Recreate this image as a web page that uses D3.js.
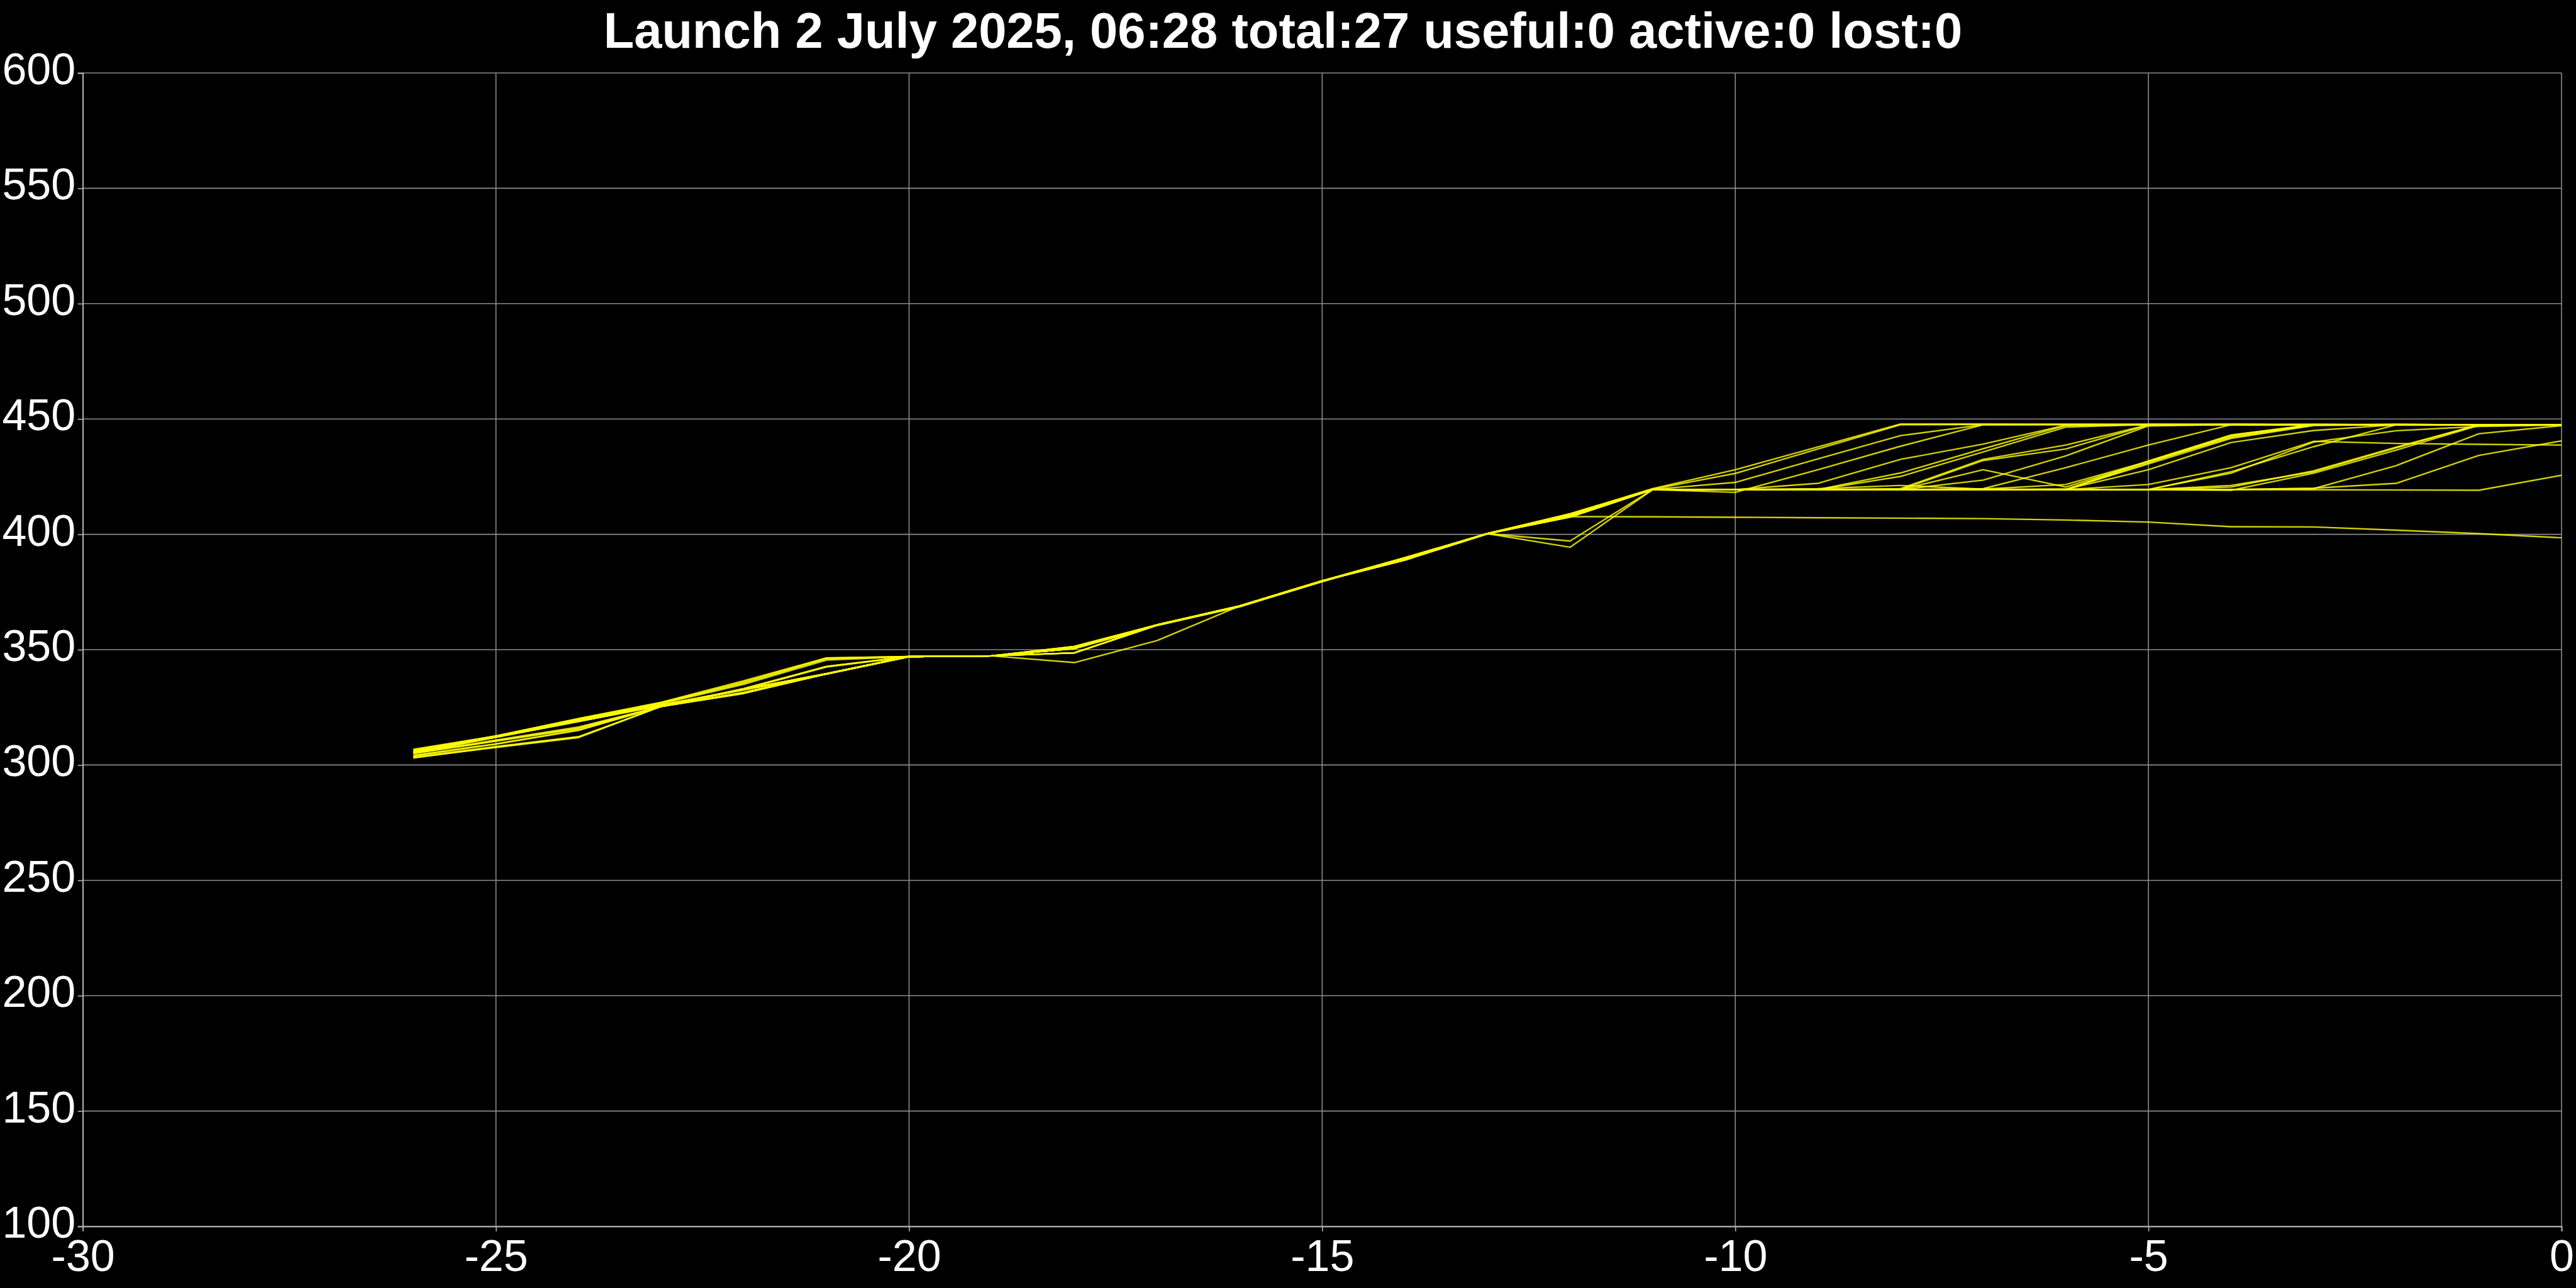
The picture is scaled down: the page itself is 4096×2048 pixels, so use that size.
<!DOCTYPE html>
<html>
<head>
<meta charset="utf-8">
<script src="https://cdn.jsdelivr.net/npm/d3@7"></script>
<style>
  html, body { margin: 0; padding: 0; background: #000; }
  svg { display: block; }
</style>
</head>
<body>
<script>
// ---- DATA ----
const titleText = "Launch 2 July 2025, 06:28 total:27 useful:0 active:0 lost:0";
const days = [-26,-25,-24,-23,-22,-21,-20,-19,-18,-17,-16,-15,-14,-13,-12,-11,-10,-9,-8,-7,-6,-5,-4,-3,-2,-1,0];
const xTicks = [-30,-25,-20,-15,-10,-5,0];
const yTicks = [100,150,200,250,300,350,400,450,500,550,600];

const s01 = [306.5,312.6,320.0,327.0,336.0,346.4,347.0,347.3,351.4,360.7,368.9,379.8,389.2,400.3,408.9,419.8,428.0,437.9,447.8,447.8,447.7,447.6,447.6,447.5,447.5,447.5,447.5];
const s02 = [306.2,312.4,319.6,326.8,335.5,346.0,347.0,347.3,351.2,360.7,368.9,379.8,389.0,400.3,408.7,419.6,426.4,437.0,447.5,447.6,447.6,447.6,447.5,447.5,447.5,447.4,447.4];
const s03 = [305.3,312.2,319.0,325.9,332.7,339.5,347.0,347.3,350.5,360.7,368.9,379.8,388.9,400.3,408.2,419.5,422.5,432.7,442.8,447.5,447.6,447.6,447.6,447.5,447.5,447.5,447.5];
const s04 = [303.2,307.6,311.9,325.4,331.0,339.5,347.0,347.3,348.6,360.7,368.9,379.8,389.8,400.3,407.5,419.4,418.2,428.0,438.2,447.5,447.6,447.6,447.5,447.5,447.5,447.5,447.5];
const s05 = [305.5,312.3,319.1,325.9,332.8,339.6,347.0,347.3,350.5,360.7,368.9,379.8,388.9,400.3,408.3,419.4,419.4,422.1,432.5,439.1,447.3,447.6,447.6,447.5,447.5,447.5,447.5];
const s06 = [305.0,310.5,316.0,325.4,333.0,342.7,347.0,347.3,350.5,360.7,368.9,379.8,388.9,400.3,408.0,419.4,419.4,419.4,426.6,437.1,447.2,447.6,447.6,447.5,447.5,447.5,447.5];
const s07 = [305.1,312.0,318.9,325.8,332.6,339.4,347.0,347.3,350.5,360.7,368.9,379.8,388.9,400.3,408.1,419.4,419.4,419.4,425.1,435.7,446.5,447.6,447.6,447.5,447.5,447.5,447.5];
const s08 = [305.4,312.2,319.0,325.9,332.7,339.5,347.0,347.3,344.4,353.9,368.9,379.8,389.8,400.3,408.0,419.4,419.4,419.8,421.2,419.6,419.5,419.4,421.2,427.1,437.5,447.5,447.5];
const s09 = [305.2,310.8,316.5,325.4,333.2,342.7,347.0,347.3,350.5,360.7,368.9,379.8,388.9,400.3,408.0,419.4,419.4,419.4,419.4,428.0,420.5,431.6,443.0,447.5,447.6,447.5,447.5];
const s10 = [305.6,312.4,319.2,326.0,332.8,339.6,347.0,347.3,350.5,360.7,368.9,379.8,388.9,400.3,408.2,419.4,419.4,419.4,419.8,432.5,438.7,447.5,447.6,447.6,447.5,447.5,447.5];
const s11 = [306.0,312.5,319.8,326.5,335.0,345.5,347.0,347.3,351.4,360.7,368.9,379.8,389.0,400.3,408.6,419.4,419.4,419.4,419.4,432.0,437.0,447.4,447.6,447.6,447.5,447.5,447.5];
const s12 = [305.3,312.1,318.9,325.8,332.6,339.5,347.0,347.3,350.5,360.7,368.9,379.8,388.9,400.3,408.2,419.4,419.4,419.4,419.4,423.5,434.0,447.0,447.6,447.6,447.5,447.5,447.5];
const s13 = [304.0,309.0,315.0,325.4,331.5,339.5,347.0,347.3,348.6,360.5,368.6,379.5,389.8,400.3,407.5,419.4,419.4,419.4,419.4,419.8,428.9,438.7,447.5,447.6,447.5,447.5,447.5];
const s14 = [305.4,312.3,319.1,325.9,332.7,339.5,347.0,347.3,350.5,360.7,368.9,379.8,388.9,400.3,408.3,419.4,419.4,419.4,419.4,419.6,421.6,431.6,442.0,447.4,447.6,447.5,447.5];
const s15 = [305.2,312.1,319.0,325.9,332.7,339.5,347.0,347.3,350.5,360.7,368.9,379.8,388.9,400.3,408.2,419.4,419.4,419.4,419.4,419.4,419.5,431.0,442.5,447.5,447.6,447.5,447.5];
const s16 = [303.0,307.8,312.1,325.4,331.2,339.5,347.0,347.3,348.6,360.7,368.9,379.8,389.8,400.3,407.6,419.4,419.4,419.4,419.4,419.4,419.5,430.5,441.6,447.2,447.6,447.5,447.5];
const s17 = [305.5,312.3,319.1,325.9,332.8,339.6,347.0,347.3,350.5,360.7,368.9,379.8,388.9,400.3,408.1,419.4,419.4,419.4,419.4,419.4,419.4,431.8,443.0,447.6,447.6,447.5,447.5];
const s18 = [306.8,312.6,320.2,327.2,336.5,346.4,347.0,347.3,351.4,360.7,368.9,379.8,389.2,400.3,408.9,419.4,419.4,419.4,419.4,419.4,419.5,428.0,439.8,445.0,447.5,447.5,447.5];
const s19 = [305.0,310.3,315.8,325.4,332.8,342.5,347.0,347.3,350.5,360.7,368.9,379.8,388.9,400.3,408.0,419.4,419.4,419.4,419.4,419.4,419.4,421.6,428.9,440.3,439.4,439.0,438.7];
const s20 = [305.3,312.2,319.0,325.9,332.7,339.5,347.0,347.3,350.5,360.7,368.9,379.8,388.9,400.3,408.2,419.4,419.4,419.4,419.4,419.4,419.4,419.4,427.1,438.0,447.5,447.5,447.5];
const s21 = [305.4,312.2,319.0,325.9,332.7,339.5,347.0,347.3,350.5,360.7,368.9,379.8,388.9,400.3,408.2,419.4,419.4,419.4,419.4,419.4,419.4,419.4,426.5,440.0,444.9,446.8,447.4];
const s22 = [304.2,309.2,315.2,325.4,331.5,339.5,347.0,347.3,348.6,360.5,368.6,379.5,389.8,400.3,407.5,419.4,419.4,419.4,419.4,419.4,419.4,419.4,419.1,426.5,436.5,447.2,447.5];
const s23 = [305.2,312.1,318.9,325.8,332.7,339.5,347.0,347.3,350.5,360.7,368.9,379.8,388.9,400.3,408.1,419.4,419.4,419.4,419.4,419.4,419.4,419.4,419.4,419.8,429.8,443.6,447.1];
const s24 = [305.3,312.2,319.0,325.9,332.7,339.5,347.0,347.3,350.5,360.7,368.9,379.8,388.9,400.3,397.1,419.4,419.4,419.4,419.4,419.4,419.4,419.4,419.4,420.0,422.1,434.2,440.5];
const s25 = [305.6,312.4,319.2,326.0,332.8,339.6,347.0,347.3,350.5,360.7,368.9,379.8,388.9,400.3,394.4,419.4,419.4,419.4,419.4,419.4,419.4,419.4,419.4,419.3,419.2,419.1,425.6];
const s26 = [305.3,312.2,319.0,325.9,332.7,339.5,347.0,347.3,350.5,360.7,368.9,379.8,388.9,400.3,407.7,407.6,407.4,407.2,407.0,406.8,406.2,405.3,403.3,403.2,401.8,400.3,398.5];
const s27 = [303.5,308.0,312.3,325.4,331.2,339.5,347.0,347.3,348.6,360.7,368.9,379.8,389.8,400.3,407.6,419.4,419.4,419.4,419.4,419.4,419.4,419.4,420.5,427.5,437.8,447.5,447.5];

const allSeries = [s01,s02,s03,s04,s05,s06,s07,s08,s09,s10,s11,s12,s13,s14,s15,s16,s17,s18,s19,s20,s21,s22,s23,s24,s25,s26,s27];

(function () {
  // ---- LAYOUT ----
  const W = 4096, H = 2048;
  const mLeft = 131.7, mRight = 4073, mTop = 116, mBottom = 1950;
  const FONT = "'Liberation Sans', Arial, Helvetica, sans-serif";

  const svg = d3.select("body").append("svg")
    .attr("width", W).attr("height", H)
    .style("background", "#000");

  svg.append("rect").attr("width", W).attr("height", H).attr("fill", "#000");

  const x = d3.scaleLinear().domain([-30, 0]).range([mLeft, mRight]);
  const y = d3.scaleLinear().domain([100, 600]).range([mBottom, mTop]);

  // grid
  const grid = svg.append("g").attr("class", "grid");
  grid.selectAll("line.gx").data(xTicks).enter().append("line")
    .attr("x1", d => x(d)).attr("x2", d => x(d))
    .attr("y1", y(600)).attr("y2", y(100))
    .attr("stroke", "#8c8c8c").attr("stroke-width", 1.6);
  grid.selectAll("line.gy").data(yTicks).enter().append("line")
    .attr("x1", x(-30)).attr("x2", x(0))
    .attr("y1", d => y(d)).attr("y2", d => y(d))
    .attr("stroke", "#8c8c8c").attr("stroke-width", 1.6);

  // lines
  const line = d3.line().x((d, i) => x(days[i])).y(d => y(d));
  svg.append("g").selectAll("path").data(allSeries).enter().append("path")
    .attr("d", line)
    .attr("fill", "none")
    .attr("stroke", "#ffff00")
    .attr("stroke-width", 2.4)
    .attr("stroke-opacity", 0.82)
    .attr("stroke-linejoin", "round");

  // axes (plain hyphen-minus labels, as in the reference)
  const fmt = d => String(d);
  const xAxis = d3.axisBottom(x).tickValues(xTicks).tickSize(8).tickPadding(13.5).tickFormat(fmt);
  const yAxis = d3.axisLeft(y).tickValues(yTicks).tickSize(8).tickPadding(3.5).tickFormat(fmt);

  const gx = svg.append("g").attr("transform", `translate(0,${mBottom})`).call(xAxis);
  const gy = svg.append("g").attr("transform", `translate(${mLeft},0)`).call(yAxis);

  [gx, gy].forEach(g => {
    g.select(".domain").attr("stroke", "#b4b4b4").attr("stroke-width", 1.8);
    g.selectAll(".tick line").attr("stroke", "#b4b4b4").attr("stroke-width", 1.6);
    g.selectAll(".tick text")
      .attr("fill", "#fff")
      .style("font-family", FONT)
      .style("font-size", "70px");
  });
  gy.selectAll(".tick text").attr("dy", "0.25em");
  gx.selectAll(".tick text").attr("dy", "0.71em");

  // title
  svg.append("text")
    .attr("x", 2040).attr("y", 76)
    .attr("text-anchor", "middle")
    .attr("fill", "#fff")
    .style("font-family", FONT)
    .style("font-weight", "bold")
    .style("font-size", "79.5px")
    .text(titleText);
})();
</script>
</body>
</html>
